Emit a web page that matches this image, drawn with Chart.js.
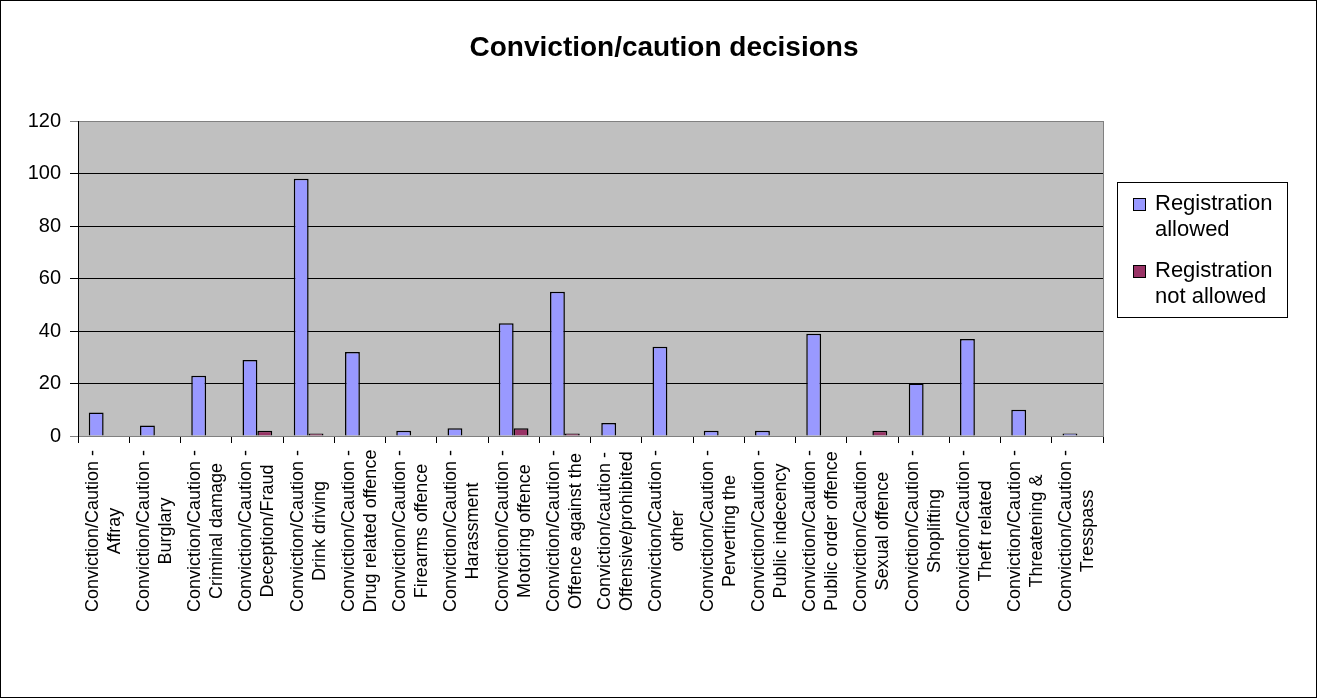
<!DOCTYPE html>
<html>
<head>
<meta charset="utf-8">
<script src="https://cdn.jsdelivr.net/npm/chart.js@4/dist/chart.umd.min.js"></script>
<style>
  body { margin: 0; background: #fff; }
  #wrap { width: 1317px; height: 698px; }
</style>
</head>
<body>
<div id="wrap"><canvas id="myChart" width="1317" height="698"></canvas></div>
<script>
// data
const categories = [
    ['Conviction/Caution -', 'Affray'],
    ['Conviction/Caution -', 'Burglary'],
    ['Conviction/Caution -', 'Criminal damage'],
    ['Conviction/Caution -', 'Deception/Fraud'],
    ['Conviction/Caution -', 'Drink driving'],
    ['Conviction/Caution -', 'Drug related offence'],
    ['Conviction/Caution -', 'Firearms offence'],
    ['Conviction/Caution -', 'Harassment'],
    ['Conviction/Caution -', 'Motoring offence'],
    ['Conviction/Caution -', 'Offence against the'],
    ['Conviction/caution -', 'Offensive/prohibited'],
    ['Conviction/Caution -', 'other'],
    ['Conviction/Caution -', 'Perverting the'],
    ['Conviction/Caution -', 'Public indecency'],
    ['Conviction/Caution -', 'Public order offence'],
    ['Conviction/Caution -', 'Sexual offence'],
    ['Conviction/Caution -', 'Shoplifting'],
    ['Conviction/Caution -', 'Theft related'],
    ['Conviction/Caution -', 'Threatening &'],
    ['Conviction/Caution -', 'Tresspass']
];
const allowed    = [9, 4, 23, 29, 98, 32, 2, 3, 43, 55, 5, 34, 2, 2, 39, 0, 20, 37, 10, 1];
const notAllowed = [0, 0, 0, 2, 1, 0, 0, 0, 3, 1, 0, 0, 0, 0, 0, 2, 0, 0, 0, 0];
const seriesNames = [['Registration', 'allowed'], ['Registration', 'not allowed']];
const yTicks = [0, 20, 40, 60, 80, 100, 120];
const titleText = 'Conviction/caution decisions';

const FONT = "'Liberation Sans', Arial, sans-serif";

// plot background, frame, title, category labels, legend
const excelLook = {
    id: 'excelLook',
    beforeDraw(chart) {
        const c = chart.ctx, a = chart.chartArea;
        c.save();
        c.fillStyle = '#fff';
        c.fillRect(0, 0, chart.width, chart.height);
        c.fillStyle = '#c0c0c0';
        c.fillRect(a.left, a.top, a.right - a.left, a.bottom - a.top);
        c.restore();
    },
    afterDraw(chart) {
        const c = chart.ctx, a = chart.chartArea;
        c.save();
        // right edge of plot area
        c.strokeStyle = '#808080';
        c.lineWidth = 1;
        c.beginPath();
        c.moveTo(Math.round(a.right) + 0.5, a.top);
        c.lineTo(Math.round(a.right) + 0.5, a.bottom);
        c.stroke();

        // outer frame
        c.strokeStyle = '#000';
        c.strokeRect(0.5, 0.5, chart.width - 1, chart.height - 1);

        // title
        c.fillStyle = '#000';
        c.font = 'bold 28px ' + FONT;
        c.textAlign = 'center';
        c.textBaseline = 'middle';
        c.fillText(titleText, 664, 48);

        // category labels, rotated, each line centred
        const xs = chart.scales.x;
        c.font = '18px ' + FONT;
        categories.forEach((lines, i) => {
            const x = xs.getPixelForTick(i);
            c.save();
            c.translate(x, 531);
            c.rotate(-Math.PI / 2);
            lines.forEach((t, k) => {
                c.fillText(t, 0, (k - (lines.length - 1) / 2) * 22);
            });
            c.restore();
        });

        // legend
        c.strokeStyle = '#000';
        c.strokeRect(1117.5, 182.5, 170, 135);
        c.font = '22px ' + FONT;
        c.textAlign = 'left';
        chart.data.datasets.forEach((ds, i) => {
            const y0 = 204 + i * 67;
            c.fillStyle = ds.backgroundColor;
            c.fillRect(1133, y0 - 6, 13, 13);
            c.strokeRect(1133.5, y0 - 5.5, 12, 12);
            c.fillStyle = '#000';
            seriesNames[i].forEach((t, k) => c.fillText(t, 1155, y0 + k * 26));
        });
        c.restore();
    }
};

const ctx = document.getElementById('myChart').getContext('2d');
const myChart = new Chart(ctx, {
    type: 'bar',
    data: {
        labels: categories,
        datasets: [{
            label: seriesNames[0].join(' '),
            data: allowed,
            backgroundColor: '#9999ff',
            borderColor: '#000',
            borderWidth: 1.5
        }, {
            label: seriesNames[1].join(' '),
            data: notAllowed,
            backgroundColor: '#993366',
            borderColor: '#000',
            borderWidth: 1.5
        }]
    },
    options: {
        responsive: false,
        animation: false,
        categoryPercentage: 0.58,
        barPercentage: 1,
        layout: { padding: { top: 121, right: 214, left: 0, bottom: 0 } },
        plugins: {
            legend: { display: false },
            title: { display: false },
            tooltip: { enabled: false }
        },
        scales: {
            x: {
                afterFit: s => { s.height = 262; },
                ticks: { display: false },
                grid: {
                    offset: true,
                    drawOnChartArea: false,
                    tickLength: 7,
                    color: '#000'
                },
                border: { color: '#808080', width: 1 }
            },
            y: {
                min: 0,
                max: 120,
                afterFit: s => { s.width = 78; },
                afterBuildTicks: s => { s.ticks = yTicks.map(v => ({ value: v })); },
                ticks: {
                    color: '#000',
                    font: { family: FONT, size: 20 },
                    padding: 9
                },
                grid: {
                    color: c => (c.tick && (c.tick.value === 120 || c.tick.value === 0)) ? '#808080' : '#000',
                    tickLength: 8,
                    lineWidth: 1
                },
                border: { color: '#000', width: 1 }
            }
        }
    },
    plugins: [excelLook]
});
</script>
</body>
</html>
